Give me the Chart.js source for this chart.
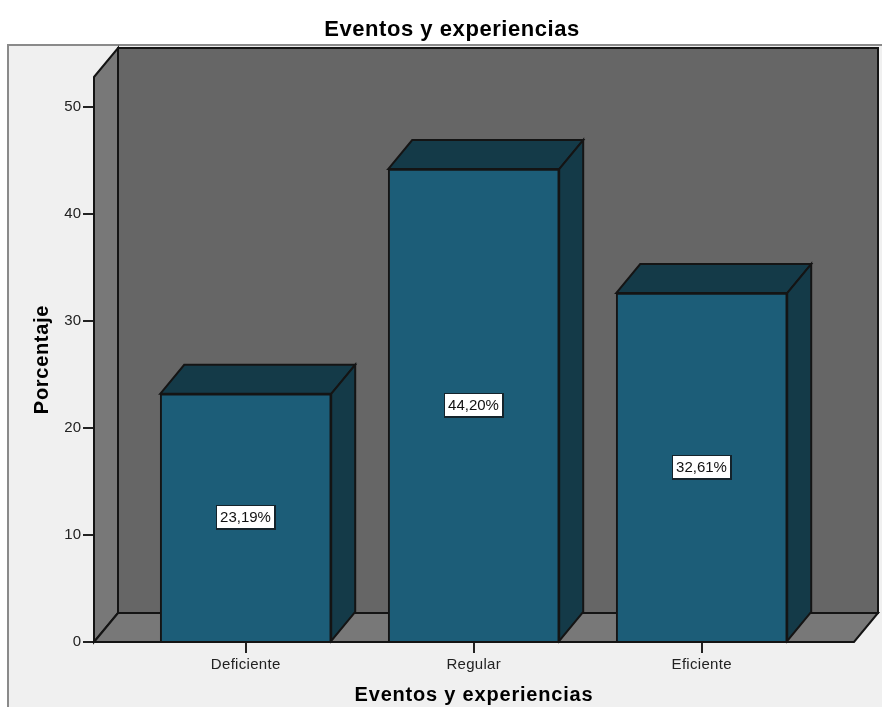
<!DOCTYPE html>
<html><head><meta charset="utf-8">
<style>html,body{margin:0;padding:0;background:#fff}#w{width:882px;height:707px;position:relative}</style>
<script src="https://cdn.jsdelivr.net/npm/chart.js@4"></script></head>
<body><div id="w"><canvas id="c" width="882" height="707"></canvas></div>
<script>
const categories = ['Deficiente','Regular','Eficiente'];
const percentages = [23.19,44.20,32.61];
const yTicks = [0,10,20,30,40,50];
const chartTitle = 'Eventos y experiencias';
const xTitle = 'Eventos y experiencias';
const yTitle = 'Porcentaje';

const FONT = '"Liberation Sans", Arial, sans-serif';
const DX = 24, DY = -29;
const C = {panel:'#f0f0f0', frame:'#8a8a8a', back:'#666666', side:'#787878', bar:'#1c5d78', dark:'#143a48', line:'#141414', text:'#222'};

function poly(ctx, pts, fill){
  ctx.beginPath();
  pts.forEach((p,i)=> i?ctx.lineTo(p[0],p[1]):ctx.moveTo(p[0],p[1]));
  ctx.closePath();
  ctx.fillStyle = fill; ctx.fill();
  ctx.lineWidth = 2; ctx.strokeStyle = C.line; ctx.lineJoin='miter'; ctx.stroke();
}
function spaced(ctx, obj, method, px){
  const orig = obj[method];
  obj[method] = function(...args){
    const prev = ctx.letterSpacing;
    ctx.letterSpacing = px;
    orig.apply(this,args);
    ctx.letterSpacing = prev;
  };
}
let wrapped = false;
const scene = {
  id:'scene',
  afterLayout(chart){
    chart.titleBlock.left += 14; chart.titleBlock.right += 14;
    if(wrapped) return; wrapped = true;
    const ctx = chart.ctx;
    spaced(ctx,chart.titleBlock,'draw','0.55px');
    spaced(ctx,chart.scales.x,'drawTitle','0.8px');
    spaced(ctx,chart.scales.y,'drawTitle','0.7px');
    spaced(ctx,chart.scales.x,'drawLabels','0.3px');
  },
  beforeDraw(chart){
    const {ctx,width,height} = chart;
    ctx.save();
    ctx.fillStyle = '#fff'; ctx.fillRect(0,0,width,height);
    ctx.fillStyle = C.panel; ctx.fillRect(8,45,width-8,height-45);
    ctx.fillStyle = C.frame; ctx.fillRect(7,44,width-7,2); ctx.fillRect(7,44,2,height-44);
    ctx.restore();
  },
  beforeDatasetsDraw(chart){
    const {ctx,chartArea:a} = chart;
    const l=a.left,r=a.right,t=a.top,b=a.bottom;
    ctx.save();
    poly(ctx,[[l+DX,t+DY],[r+DX,t+DY],[r+DX,b+DY],[l+DX,b+DY]],C.back);
    poly(ctx,[[l,t],[l+DX,t+DY],[l+DX,b+DY],[l,b]],C.side);
    poly(ctx,[[l,b],[l+DX,b+DY],[r+DX,b+DY],[r,b]],C.side);
    ctx.restore();
  },
  afterDatasetsDraw(chart){
    const {ctx} = chart;
    ctx.save();
    chart.getDatasetMeta(0).data.forEach((bar,i)=>{
      const L=bar.x-bar.width/2,R=bar.x+bar.width/2,T=bar.y,B=bar.base;
      poly(ctx,[[L,T],[L+DX,T+DY],[R+DX,T+DY],[R,T]],C.dark);
      poly(ctx,[[R,T],[R+DX,T+DY],[R+DX,B+DY],[R,B]],C.dark);
      const txt = percentages[i].toFixed(2).replace('.',',')+'%';
      const mid=(T+B)/2;
      ctx.font='15px '+FONT;
      const w=Math.round(ctx.measureText(txt).width)+6,h=22;
      const bx=Math.round(bar.x-w/2),by=Math.round(mid-h/2);
      ctx.fillStyle='#14232b'; ctx.fillRect(bx-1,by-1,w+3,h+3);
      ctx.fillStyle='#fff'; ctx.fillRect(bx,by,w,h);
      ctx.fillStyle='#111'; ctx.textAlign='center'; ctx.textBaseline='middle';
      ctx.fillText(txt,bx+w/2,by+h/2+1);
    });
    ctx.restore();
  }
};
new Chart(document.getElementById('c'),{
  type:'bar',
  data:{datasets:[{
    data:categories.map((_,i)=>({x:i,y:percentages[i]})),
    backgroundColor:C.bar,borderColor:C.line,borderWidth:2,barThickness:171
  }]},
  plugins:[scene],
  options:{
    responsive:false,animation:false,
    layout:{padding:{left:22,right:28,top:0,bottom:0}},
    plugins:{
      legend:{display:false},tooltip:{enabled:false},
      title:{display:true,text:chartTitle,color:'#000',font:{family:FONT,size:22,weight:'bold',lineHeight:1.2},padding:{top:17,bottom:33.6}}
    },
    scales:{
      x:{type:'linear',min:-0.6654,max:2.668,offset:false,
        afterBuildTicks(s){ s.ticks = categories.map((_,i)=>({value:i})); },
        afterFit(s){ s.height = 65; },
        grid:{offset:false,drawOnChartArea:false,drawTicks:true,tickLength:11,color:'#222',lineWidth:2},
        border:{display:false},
        ticks:{color:C.text,font:{family:FONT,size:15},padding:3,maxRotation:0,callback:v=>categories[v]},
        title:{display:true,text:xTitle,color:'#000',font:{family:FONT,size:20,weight:'bold'},padding:{top:14,bottom:0}}
      },
      y:{min:0,max:52.8,
        afterBuildTicks(s){ s.ticks = yTicks.map(v=>({value:v})); },
        afterFit(s){ s.width = 72; },
        grid:{drawOnChartArea:false,tickLength:11,color:'#222',lineWidth:2},
        border:{display:false},
        ticks:{color:C.text,font:{family:FONT,size:15},padding:2},
        title:{display:true,text:yTitle,color:'#000',font:{family:FONT,size:20,weight:'bold'},padding:{top:8,bottom:0}}
      }
    }
  }
});
</script></body></html>
